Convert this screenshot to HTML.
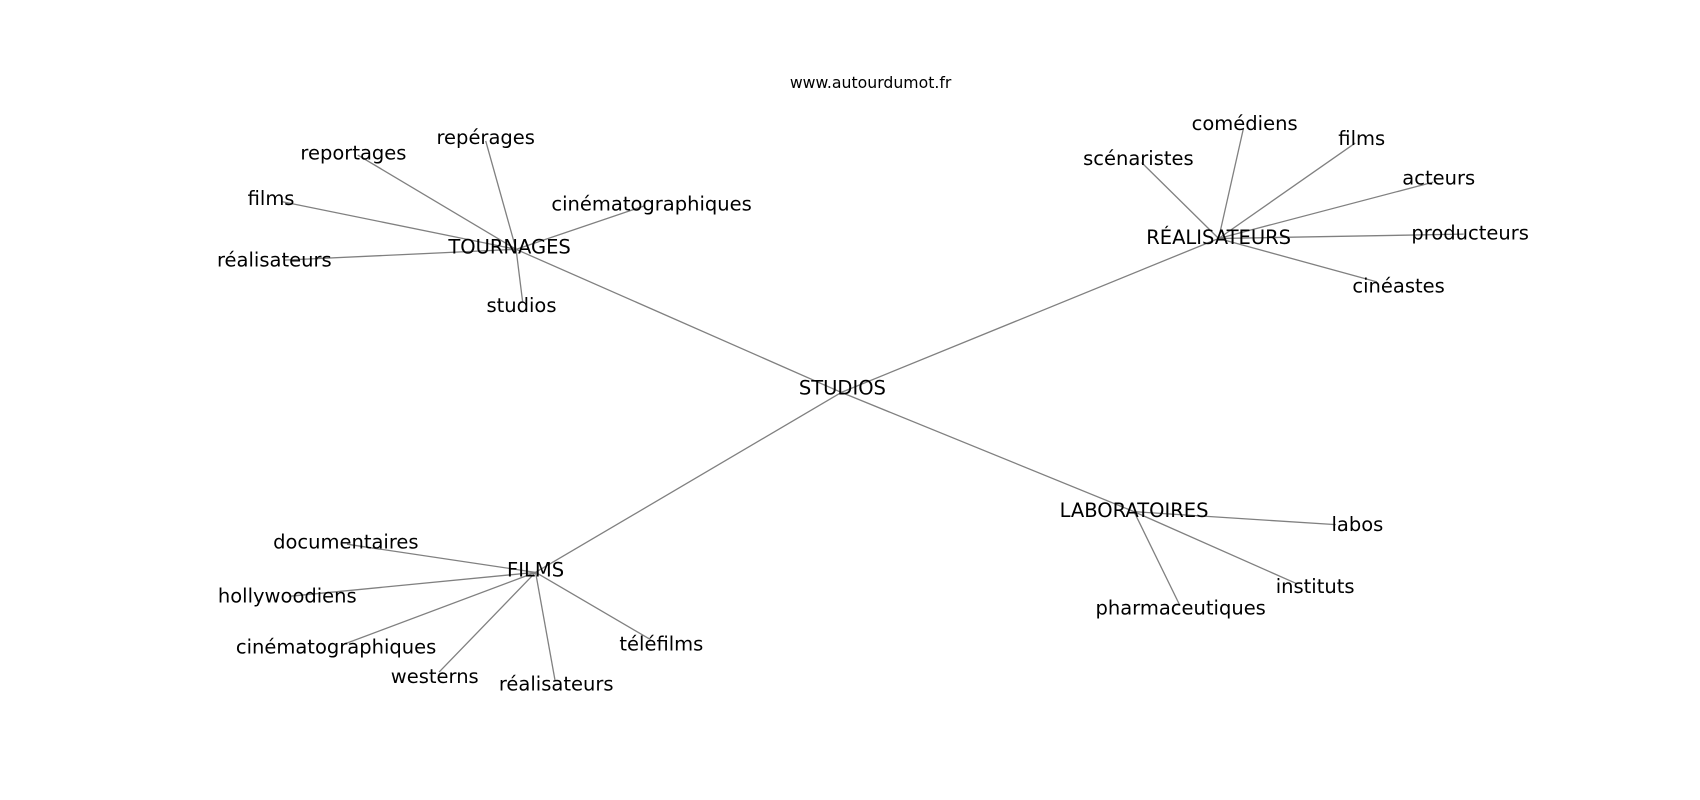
<!DOCTYPE html>
<html><head><meta charset="utf-8"><style>
html,body{margin:0;padding:0;background:#fff;width:1700px;height:800px;overflow:hidden}
svg{display:block}
text{font-family:"DejaVu Sans","Liberation Sans",sans-serif;font-size:18px;fill:#000;text-anchor:middle;dominant-baseline:central}
line{stroke:#808080;stroke-width:1.2}
</style></head><body>
<svg width="1700" height="800" viewBox="0 0 1568 738" preserveAspectRatio="none">
<g>
<line x1="776" y1="362" x2="476" y2="230"/>
<line x1="776" y1="362" x2="1124" y2="220"/>
<line x1="776" y1="362" x2="494" y2="528"/>
<line x1="776" y1="362" x2="1046" y2="472"/>
<line x1="476" y1="230" x2="330" y2="143"/>
<line x1="476" y1="230" x2="448" y2="130"/>
<line x1="476" y1="230" x2="260" y2="186"/>
<line x1="476" y1="230" x2="262" y2="240"/>
<line x1="476" y1="230" x2="594" y2="190"/>
<line x1="476" y1="230" x2="482" y2="278"/>
<line x1="1124" y1="220" x2="1053" y2="150"/>
<line x1="1124" y1="220" x2="1147" y2="118"/>
<line x1="1124" y1="220" x2="1250" y2="132"/>
<line x1="1124" y1="220" x2="1322" y2="168"/>
<line x1="1124" y1="220" x2="1350" y2="216"/>
<line x1="1124" y1="220" x2="1270" y2="260"/>
<line x1="494" y1="528" x2="320" y2="502"/>
<line x1="494" y1="528" x2="268" y2="550"/>
<line x1="494" y1="528" x2="318" y2="594"/>
<line x1="494" y1="528" x2="405" y2="620"/>
<line x1="494" y1="528" x2="512" y2="628"/>
<line x1="494" y1="528" x2="600" y2="590"/>
<line x1="1046" y1="472" x2="1232" y2="484"/>
<line x1="1046" y1="472" x2="1195" y2="538"/>
<line x1="1046" y1="472" x2="1088" y2="558"/>
</g>
<text x="803" y="76" style="font-size:14.5px">www.autourdumot.fr</text>
<text x="777" y="358">STUDIOS</text>
<text x="470" y="228">TOURNAGES</text>
<text x="1124" y="219">RÉALISATEURS</text>
<text x="494" y="526">FILMS</text>
<text x="1046" y="471">LABORATOIRES</text>
<text x="326" y="141">reportages</text>
<text x="448" y="127">repérages</text>
<text x="250" y="183">films</text>
<text x="253" y="240">réalisateurs</text>
<text x="601" y="188">cinématographiques</text>
<text x="481" y="282">studios</text>
<text x="1050" y="146">scénaristes</text>
<text x="1148" y="114">comédiens</text>
<text x="1256" y="128">films</text>
<text x="1327" y="164">acteurs</text>
<text x="1356" y="215">producteurs</text>
<text x="1290" y="264">cinéastes</text>
<text x="319" y="500">documentaires</text>
<text x="265" y="550">hollywoodiens</text>
<text x="310" y="597">cinématographiques</text>
<text x="401" y="624">westerns</text>
<text x="513" y="631">réalisateurs</text>
<text x="610" y="594">téléfilms</text>
<text x="1252" y="484">labos</text>
<text x="1213" y="541">instituts</text>
<text x="1089" y="561">pharmaceutiques</text>
</svg>
</body></html>
